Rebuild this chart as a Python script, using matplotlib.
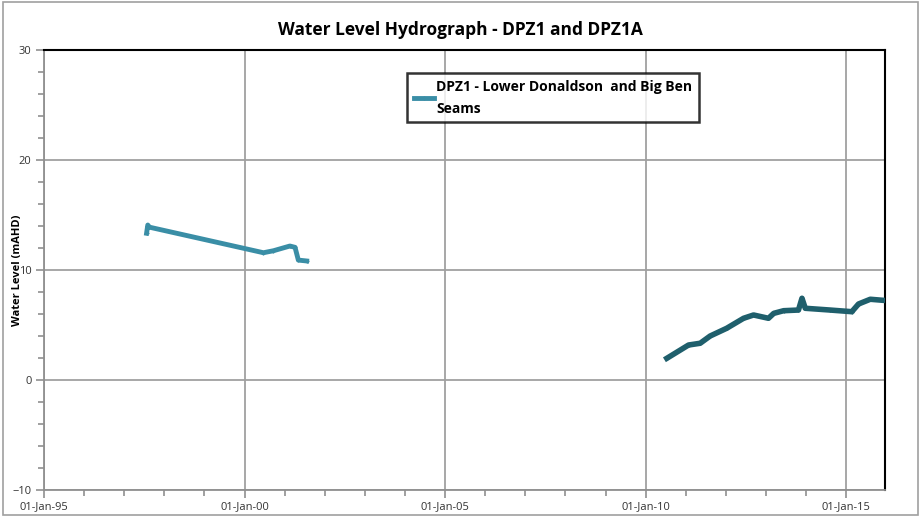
import pandas as pd
import matplotlib
matplotlib.use("Agg")
import matplotlib.pyplot as plt
import matplotlib.dates as mdates
from matplotlib.patches import Rectangle

plt.rcParams['font.family'] = ['Open Sans', 'DejaVu Sans']

# DPZ1 - early record
dpz1_dates = ['1997-07-23', '1997-08-03', '1997-08-15', '2000-06-21', '2000-09-20',
              '2001-02-17', '2001-04-05', '2001-05-05', '2001-07-20']
dpz1_level = [13.34, 14.09, 13.9, 11.57, 11.75, 12.18, 12.06, 10.9, 10.82]

# DPZ1A - later record
dpz1a_dates = ['2010-07-12', '2011-01-26', '2011-05-12', '2011-08-11', '2012-01-08',
               '2012-06-10', '2012-09-09', '2013-01-23', '2013-03-12', '2013-06-10',
               '2013-10-23', '2013-11-24', '2013-12-24', '2014-08-07', '2015-02-21',
               '2015-04-23', '2015-08-08', '2015-11-25']
dpz1a_level = [1.97, 3.18, 3.34, 4.0, 4.7, 5.61, 5.91, 5.61, 6.06, 6.3,
               6.36, 7.43, 6.52, 6.36, 6.21, 6.91, 7.34, 7.25]

title = 'Water Level Hydrograph - DPZ1 and DPZ1A'
legend_label = 'DPZ1 - Lower Donaldson  and Big Ben\nSeams'

fig = plt.figure(figsize=(9.21, 5.17), dpi=100)
ax = fig.add_axes([44/921, 27/517, 841/921, 440/517])

# outer chart frame
fig.patches.append(Rectangle((0.003, 0.004), 0.994, 0.992, transform=fig.transFigure,
                             fill=False, edgecolor='#a0a0a0', lw=1.2))

ax.plot(pd.to_datetime(dpz1_dates), dpz1_level, color='#3a8ea6', lw=3.5,
        marker='+', ms=3, label=legend_label, zorder=3)
ax.plot(pd.to_datetime(dpz1a_dates), dpz1a_level, color='#1f5f6c', lw=4,
        marker='+', ms=3, label='_nolegend_', zorder=3)

ax.set_xlim(pd.Timestamp('1995-01-01'), pd.Timestamp('2015-12-20'))
ax.set_ylim(-10, 30)
ax.set_yticks([-10, 0, 10, 20, 30])
ax.set_yticks(range(-10, 31, 2), minor=True)

ax.xaxis.set_major_locator(mdates.YearLocator(5))
ax.xaxis.set_minor_locator(mdates.YearLocator(1))
ax.xaxis.set_major_formatter(mdates.DateFormatter('%d-%b-%y'))

ax.grid(True, which='major', color='#a0a0a0', lw=1.3)
ax.set_axisbelow(True)

for s in ['left', 'bottom']:
    ax.spines[s].set_color('#909090')
    ax.spines[s].set_linewidth(1.3)
for s in ['top', 'right']:
    ax.spines[s].set_color('black')
    ax.spines[s].set_linewidth(1.5)

ax.tick_params(which='both', direction='out', color='#909090', width=1.2)
ax.tick_params(which='major', length=6, labelsize=8, labelcolor='#333333')
ax.tick_params(which='minor', length=4)
ax.tick_params(axis='x', pad=2)
ax.tick_params(axis='y', pad=3)

ax.set_ylabel('Water Level (mAHD)', fontsize=8, fontweight='bold')
ax.yaxis.set_label_coords(-0.025, 0.5)

fig.text(0.5, 0.942, title, ha='center', va='center', fontsize=12.5, fontweight='bold')

leg = ax.legend(loc='upper left', bbox_to_anchor=(0.432, 0.948),
                prop={'weight': 'bold', 'size': 10}, frameon=True, fancybox=False,
                handlelength=1.4, handletextpad=0.2, borderpad=0.5, labelspacing=0.2,
                borderaxespad=0)
leg.get_frame().set_edgecolor('black')
leg.get_frame().set_linewidth(1.8)
leg.get_texts()[0].set_linespacing(1.7)

fig.savefig('out.png', dpi=100)
